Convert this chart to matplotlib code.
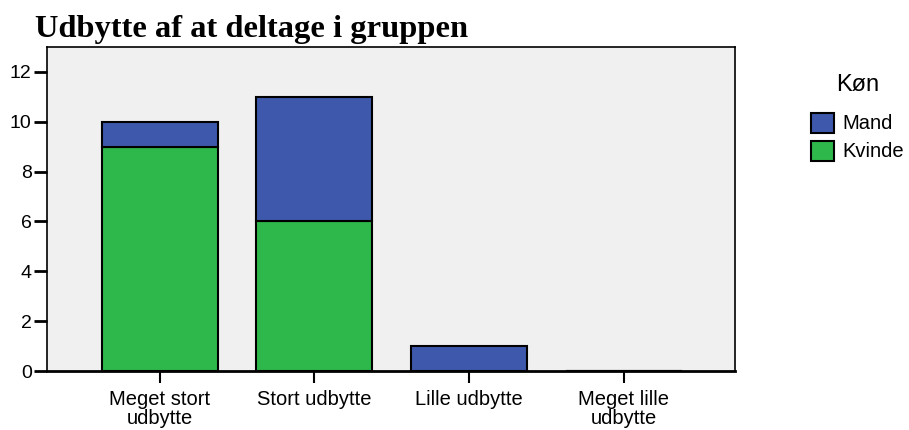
import matplotlib
matplotlib.use("Agg")
import matplotlib.pyplot as plt
from matplotlib.patches import Patch

plt.rcParams["font.family"] = ["Liberation Sans", "DejaVu Sans"]

categories = ["Meget stort\nudbytte", "Stort udbytte", "Lille udbytte", "Meget lille\nudbytte"]
kvinde = [9, 6, 0, 0]
mand = [1, 5, 1, 0]
yticks = [0, 2, 4, 6, 8, 10, 12]
title = "Udbytte af at deltage i gruppen"

c_mand = "#3E58AC"
c_kvinde = "#2EB84B"

fig = plt.figure(figsize=(9.09, 4.30), dpi=100)
ax = fig.add_axes([47/909, 1 - 371/430, (735-47)/909, (371-47)/430])
ax.set_facecolor("#F0F0F0")
x = list(range(len(categories)))
ax.bar(x, kvinde, width=0.75, color=c_kvinde, edgecolor="black", linewidth=1.5, zorder=2)
ax.bar(x, mand, bottom=kvinde, width=0.75, color=c_mand, edgecolor="black", linewidth=1.5, zorder=2)
ax.set_xlim(-0.73, 3.72)
ax.set_ylim(0, 13)
ax.set_yticks(yticks)
ax.set_xticks(x)
ax.set_xticklabels(categories, linespacing=1.05)
ax.tick_params(axis="y", length=9.5, width=2, pad=1.5, labelsize=14)
ax.tick_params(axis="x", length=8.5, width=1.5, pad=5, labelsize=14.5)
for s in ax.spines.values():
    s.set_linewidth(1.2)
ax.spines["bottom"].set_linewidth(2)
ax.spines["bottom"].set_zorder(3)

fig.text(35/909, 1 - 29/430, title, fontsize=23.4, fontweight="bold", family="Liberation Serif", va="center", ha="left")

handles = [Patch(facecolor=c_mand, edgecolor="black", linewidth=1.5, label="Mand"),
           Patch(facecolor=c_kvinde, edgecolor="black", linewidth=1.5, label="Kvinde")]
leg = fig.legend(handles=handles, title="Køn", loc="upper left", bbox_to_anchor=(811/909, 1 - 74/430),
                 frameon=False, prop={"size": 14.5},
                 title_fontproperties={"size": 17},
                 handlelength=1.15, handleheight=1.15, handletextpad=0.4, labelspacing=0.35,
                 borderpad=0, borderaxespad=0)
leg._legend_box.align = "center"
leg._legend_box.sep = 12

fig.savefig("out.png", dpi=100)
